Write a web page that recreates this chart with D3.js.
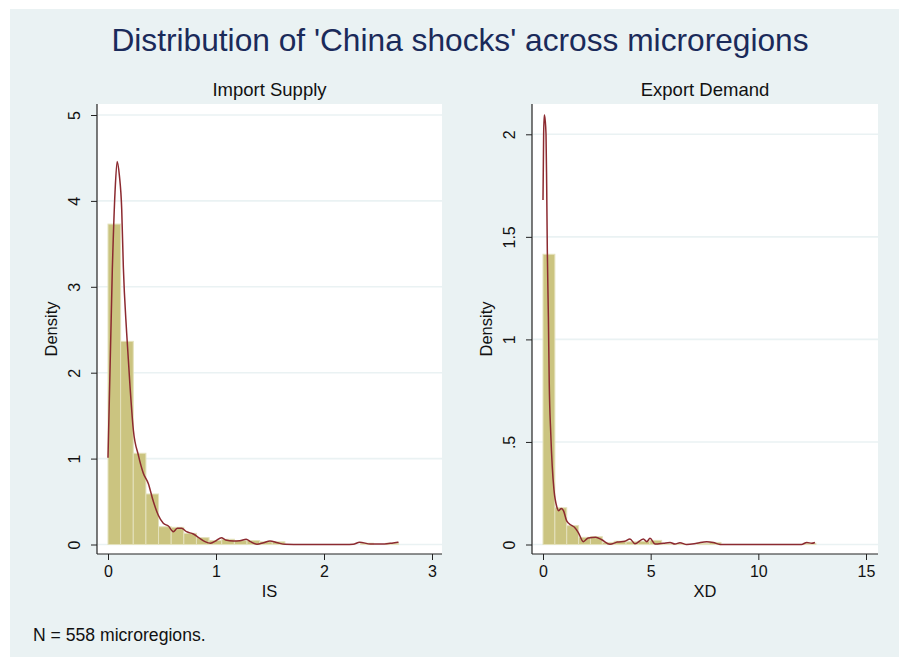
<!DOCTYPE html>
<html>
<head>
<meta charset="utf-8">
<script src="https://cdn.jsdelivr.net/npm/d3@7"></script>
<style>
  html, body { margin: 0; padding: 0; background: #ffffff; }
  svg { display: block; }
  text { font-family: "Liberation Sans", Arial, Helvetica, sans-serif; }
</style>
</head>
<body>
<svg id="chart" width="899" height="657"></svg>
<script>
// ---- Data ----------------------------------------------------------------
// Histogram of import-supply shock (IS): 23 bins starting at 0
const isBinStart = 0;
const isBinWidth = 0.117;
const isDensity = [3.73, 2.365, 1.062, 0.588, 0.207, 0.20, 0.13, 0.08, 0.046, 0.061,
                   0.046, 0.046, 0.031, 0.031, 0, 0, 0, 0, 0, 0, 0.015, 0, 0.015];
// Kernel density of IS: [value, density]
const isKde = [
  [0, 1.01], [0.04, 3.2], [0.065, 4.1], [0.085, 4.46], [0.105, 4.3], [0.127, 3.9],
  [0.142, 3.23], [0.173, 2.46], [0.204, 1.84], [0.235, 1.33], [0.281, 1.04],
  [0.327, 0.83], [0.373, 0.71], [0.42, 0.50], [0.466, 0.34], [0.512, 0.247],
  [0.559, 0.215], [0.605, 0.149], [0.642, 0.188], [0.682, 0.188], [0.728, 0.149],
  [0.79, 0.122], [0.836, 0.084], [0.898, 0.033], [0.95, 0.014], [1.0, 0.044],
  [1.05, 0.079], [1.09, 0.052], [1.16, 0.041], [1.22, 0.044], [1.28, 0.062],
  [1.32, 0.033], [1.38, 0.004], [1.44, 0.021], [1.5, 0.041], [1.57, 0.02],
  [1.64, 0.002], [1.8, 0], [2.0, 0], [2.2, 0], [2.27, 0.002], [2.33, 0.026],
  [2.43, 0.006], [2.56, 0.006], [2.64, 0.018], [2.69, 0.026]
];

// Histogram of export-demand shock (XD): 23 bins starting at 0
const xdBinStart = 0;
const xdBinWidth = 0.551;
const xdDensity = [1.415, 0.179, 0.092, 0.035, 0.038, 0.01, 0.016, 0.013, 0.016, 0.02,
                   0.003, 0.003, 0, 0.006, 0.01, 0, 0, 0, 0, 0, 0, 0, 0.006];
// Kernel density of XD: [value, density]
const xdKde = [
  [0, 1.68], [0.03, 2.0], [0.06, 2.094], [0.1, 2.07], [0.14, 2.0], [0.17, 1.76],
  [0.2, 1.436], [0.25, 1.11], [0.29, 0.786], [0.36, 0.542], [0.43, 0.379],
  [0.51, 0.266], [0.64, 0.184], [0.73, 0.165], [0.85, 0.176], [0.95, 0.165],
  [1.1, 0.115], [1.3, 0.095], [1.45, 0.085], [1.64, 0.058], [1.87, 0.014],
  [2.1, 0.032], [2.45, 0.035], [2.73, 0.023], [3.11, 0.001], [3.45, 0.012],
  [3.8, 0.016], [4.04, 0.027], [4.27, 0.004], [4.66, 0.027], [4.82, 0.014],
  [4.97, 0.03], [5.2, 0.002], [5.59, 0.006], [5.9, 0.01], [6.13, 0.002],
  [6.36, 0.009], [6.67, 0], [7.14, 0.006], [7.6, 0.014], [7.91, 0.01], [8.22, 0],
  [10, 0], [12.0, 0], [12.25, 0.01], [12.48, 0.006], [12.63, 0.01]
];

// Axis ticks
const isXTicks = [0, 1, 2, 3];
const isXTickLabels = ["0", "1", "2", "3"];
const isYTicks = [0, 1, 2, 3, 4, 5];
const isYTickLabels = ["0", "1", "2", "3", "4", "5"];
const xdXTicks = [0, 5, 10, 15];
const xdXTickLabels = ["0", "5", "10", "15"];
const xdYTicks = [0, 0.5, 1, 1.5, 2];
const xdYTickLabels = ["0", ".5", "1", "1.5", "2"];

// ---- Styles --------------------------------------------------------------
const BG = "#eaf2f3";
const GRID = "#eaf2f3";
const BAR_FILL = "#cbc480";
const BAR_EDGE = "#e4e1bc";
const LINE = "#8c2a30";
const TITLE = "#1a2a5a";
const AXIS = "#222222";
const TEXT = "#111111";

const svg = d3.select("#chart");

// Outer background (white margin on top/left)
svg.append("rect").attr("x", 0).attr("y", 0).attr("width", 899).attr("height", 657).attr("fill", "#ffffff");
svg.append("rect").attr("x", 10).attr("y", 9).attr("width", 889).attr("height", 648).attr("fill", BG);

svg.append("text")
  .attr("x", 460).attr("y", 51)
  .attr("text-anchor", "middle")
  .attr("font-size", 31.7)
  .attr("fill", TITLE)
  .text("Distribution of 'China shocks' across microregions");

svg.append("text")
  .attr("x", 33).attr("y", 641)
  .attr("font-size", 17.6)
  .attr("fill", TEXT)
  .text("N = 558 microregions.");

function panel(cfg) {
  const g = svg.append("g");
  const box = cfg.box;
  const x = d3.scaleLinear().domain(cfg.xDomain).range(cfg.xRange);
  const y = d3.scaleLinear().domain(cfg.yDomain).range(cfg.yRange);

  // plot region
  g.append("rect")
    .attr("x", box.left).attr("y", box.top)
    .attr("width", box.right - box.left).attr("height", box.bottom - box.top)
    .attr("fill", "#ffffff");

  // horizontal grid
  g.append("g").selectAll("line").data(cfg.yTicks).join("line")
    .attr("x1", box.left + 1).attr("x2", box.right)
    .attr("y1", d => y(d)).attr("y2", d => y(d))
    .attr("stroke", GRID).attr("stroke-width", 1.6);

  // histogram bars
  const bins = cfg.density.map((d, i) => ({
    x0: cfg.binStart + i * cfg.binWidth,
    x1: cfg.binStart + (i + 1) * cfg.binWidth,
    d
  })).filter(b => b.d > 0);
  g.append("g").selectAll("rect").data(bins).join("rect")
    .attr("x", b => x(b.x0))
    .attr("width", b => x(b.x1) - x(b.x0))
    .attr("y", b => y(b.d))
    .attr("height", b => y(0) - y(b.d))
    .attr("fill", BAR_FILL)
    .attr("stroke", BAR_EDGE)
    .attr("stroke-width", 1);

  // kernel density line
  const line = d3.line()
    .x(d => x(d[0]))
    .y(d => y(d[1]))
    .curve(d3.curveMonotoneX);
  g.append("path")
    .datum(cfg.kde)
    .attr("d", line)
    .attr("fill", "none")
    .attr("stroke", LINE)
    .attr("stroke-width", 1.5);

  // axes
  const yAxis = d3.axisLeft(y).tickValues(cfg.yTicks)
    .tickFormat((d, i) => cfg.yTickLabels[i]).tickSize(6);
  const ya = g.append("g").attr("transform", `translate(${box.left},0)`).call(yAxis);
  ya.select(".domain").remove();
  ya.selectAll(".tick line").attr("stroke", AXIS);
  ya.selectAll(".tick text")
    .attr("font-size", 16).attr("fill", TEXT)
    .attr("font-family", "Liberation Sans, Arial, sans-serif")
    .attr("text-anchor", "middle")
    .attr("dy", null)
    .attr("x", null)
    .attr("transform", "translate(-21,0) rotate(-90)")
    .attr("dominant-baseline", "middle");

  const xAxis = d3.axisBottom(x).tickValues(cfg.xTicks)
    .tickFormat((d, i) => cfg.xTickLabels[i]).tickSize(6).tickPadding(6);
  const xa = g.append("g").attr("transform", `translate(0,${box.bottom})`).call(xAxis);
  xa.select(".domain").remove();
  xa.selectAll(".tick line").attr("stroke", AXIS);
  xa.selectAll(".tick text")
    .attr("font-size", 16).attr("fill", TEXT)
    .attr("font-family", "Liberation Sans, Arial, sans-serif");

  // axis lines
  g.append("line")
    .attr("x1", box.left).attr("x2", box.left)
    .attr("y1", box.top).attr("y2", box.bottom)
    .attr("stroke", AXIS).attr("stroke-width", 1.2);
  g.append("line")
    .attr("x1", box.left).attr("x2", box.right)
    .attr("y1", box.bottom).attr("y2", box.bottom)
    .attr("stroke", AXIS).attr("stroke-width", 1.2);

  // titles
  g.append("text")
    .attr("x", (box.left + box.right) / 2).attr("y", 96)
    .attr("text-anchor", "middle").attr("font-size", 18.5).attr("fill", TEXT)
    .text(cfg.title);
  g.append("text")
    .attr("x", (box.left + box.right) / 2).attr("y", 597)
    .attr("text-anchor", "middle").attr("font-size", 16.5).attr("fill", TEXT)
    .text(cfg.xLabel);
  g.append("text")
    .attr("transform", `translate(${box.left - 40},${(box.top + box.bottom) / 2}) rotate(-90)`)
    .attr("text-anchor", "middle").attr("font-size", 16.5).attr("fill", TEXT)
    .text("Density");
}

panel({
  box: { left: 97, right: 442, top: 104, bottom: 554 },
  xDomain: [0, 3], xRange: [108, 432],
  yDomain: [0, 5], yRange: [544.5, 115],
  xTicks: isXTicks, xTickLabels: isXTickLabels,
  yTicks: isYTicks, yTickLabels: isYTickLabels,
  binStart: isBinStart, binWidth: isBinWidth, density: isDensity,
  kde: isKde, title: "Import Supply", xLabel: "IS"
});

panel({
  box: { left: 532, right: 878, top: 104, bottom: 554 },
  xDomain: [0, 15], xRange: [543, 866],
  yDomain: [0, 2], yRange: [544.5, 134.3],
  xTicks: xdXTicks, xTickLabels: xdXTickLabels,
  yTicks: xdYTicks, yTickLabels: xdYTickLabels,
  binStart: xdBinStart, binWidth: xdBinWidth, density: xdDensity,
  kde: xdKde, title: "Export Demand", xLabel: "XD"
});
</script>
</body>
</html>
